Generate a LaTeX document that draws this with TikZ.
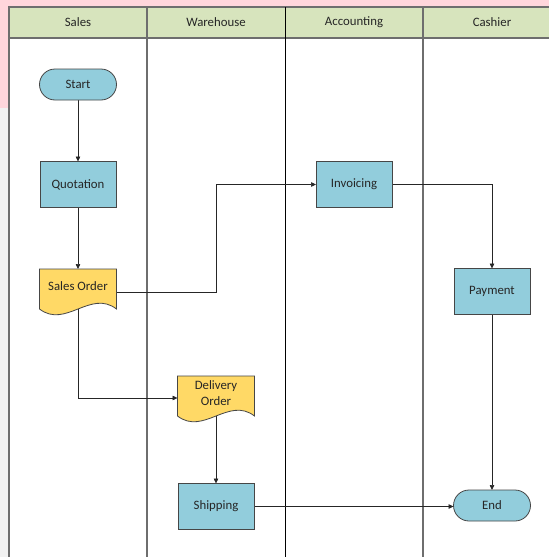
\documentclass[tikz,border=0pt]{standalone}
\usepackage{fontspec}
\setmainfont{Carlito}
\usetikzlibrary{arrows.meta,calc}
\pgfdeclarelayer{lanes}\pgfdeclarelayer{links}\pgfdeclarelayer{docs}
\pgfsetlayers{lanes,links,docs,main}
\definecolor{pinkbg}{RGB}{255,214,220}
\definecolor{graybg}{RGB}{242,242,242}
\definecolor{hdr}{RGB}{215,228,189}
\definecolor{procblue}{RGB}{146,205,220}
\definecolor{docyellow}{RGB}{255,217,102}
\definecolor{edgecol}{RGB}{70,70,70}
\definecolor{lanecol}{RGB}{110,110,110}
\tikzset{
  txt/.style={font=\fontsize{12.8}{16}\selectfont, text=black!85, align=center},
  proc/.style={txt, draw=edgecol, fill=procblue, line width=0.8pt, minimum width=76pt, minimum height=46pt, outer sep=0pt, inner sep=0pt},
  term/.style={txt, draw=edgecol, fill=procblue, line width=0.8pt, minimum width=77pt, minimum height=31pt, rounded corners=15.5pt, outer sep=0pt, inner sep=0pt},
  docnode/.style={txt, minimum width=77pt, minimum height=34pt, outer sep=0pt, inner sep=0pt},
  docst/.style={draw=edgecol, fill=docyellow, line width=0.8pt},
  link/.style={draw=black!85, line width=0.7pt, -{Triangle[length=5pt,width=4.5pt]}},
  lane/.style={draw=lanecol, line width=1.1pt},
  hdrtxt/.style={font=\fontsize{12.8}{14}\selectfont, text=black!85}
}
\newcommand\docoutline[1]{%
  \begin{pgfonlayer}{docs}
  \filldraw[docst] (#1.north west) -- (#1.north east) -- ($(#1.north east)+(0,40)$)
    .. controls +(-26,-20) and +(26,20) .. ($(#1.north west)+(0,40)$) -- cycle;
  \end{pgfonlayer}}
\begin{document}
\begin{tikzpicture}[x=1pt,y=-1pt]
\useasboundingbox (0,0) rectangle (549,557);
% background
\begin{pgfonlayer}{lanes}
\fill[graybg] (0,0) rectangle (549,557);
\fill[pinkbg] (0,0) rectangle (549,108);
\fill[white] (9,7) rectangle (549,557);
\fill[hdr] (9,7) rectangle (549,38);
\draw[lane] (9,557) -- (9,7) -- (549,7);
\draw[lane] (9,38) -- (549,38);
\draw[lane] (147,7) -- (147,557);
\draw[draw=black, line width=0.8pt] (285,7) -- (285,557);
\draw[lane] (423,7) -- (423,557);
\end{pgfonlayer}
\node[hdrtxt] (hs) at (78,22.5) {Sales};
\node[hdrtxt] (hw) at (216,22.5) {Warehouse};
\node[hdrtxt] (ha) at (354,22.5) {Accounting};
\node[hdrtxt] (hc) at (492,22.5) {Cashier};
% nodes
\node[term] (start) at (78,84.5) {Start};
\node[proc] (quot) at (78,184.5) {Quotation};
\node[docnode] (so) at (78,286) {Sales Order};
\node[proc] (inv) at (354,184.5) {Invoicing};
\node[proc] (pay) at (492,291.5) {Payment};
\node[docnode] (dord) at (216,393) {Delivery\\Order};
\node[proc] (ship) at (216,506.5) {Shipping};
\node[term] (endn) at (492,505.5) {End};
\docoutline{so}
\docoutline{dord}
\coordinate (soout) at ($(so.north east)+(0,23)$);
\coordinate (sobot) at ($(so.north)+(0,40)$);
\coordinate (dordin) at ($(dord.north west)+(0,22)$);
\coordinate (dordbot) at ($(dord.north)+(0,40)$);
% links
\begin{pgfonlayer}{links}
\draw[link] (start.south) -- (quot.north);
\draw[link] (quot.south) -- (so.north);
\draw[link] (soout) -- (soout -| dord.center) -- (dord.center |- inv.west) -- (inv.west);
\draw[link] (inv.east) -| (pay.north);
\draw[link] (sobot) |- (dordin);
\draw[link] (dordbot) -- (ship.north);
\draw[link] (ship.east) -- (ship.east -| endn.west);
\draw[link] (pay.south) -- (endn.north);
\end{pgfonlayer}
\end{tikzpicture}
\end{document}
